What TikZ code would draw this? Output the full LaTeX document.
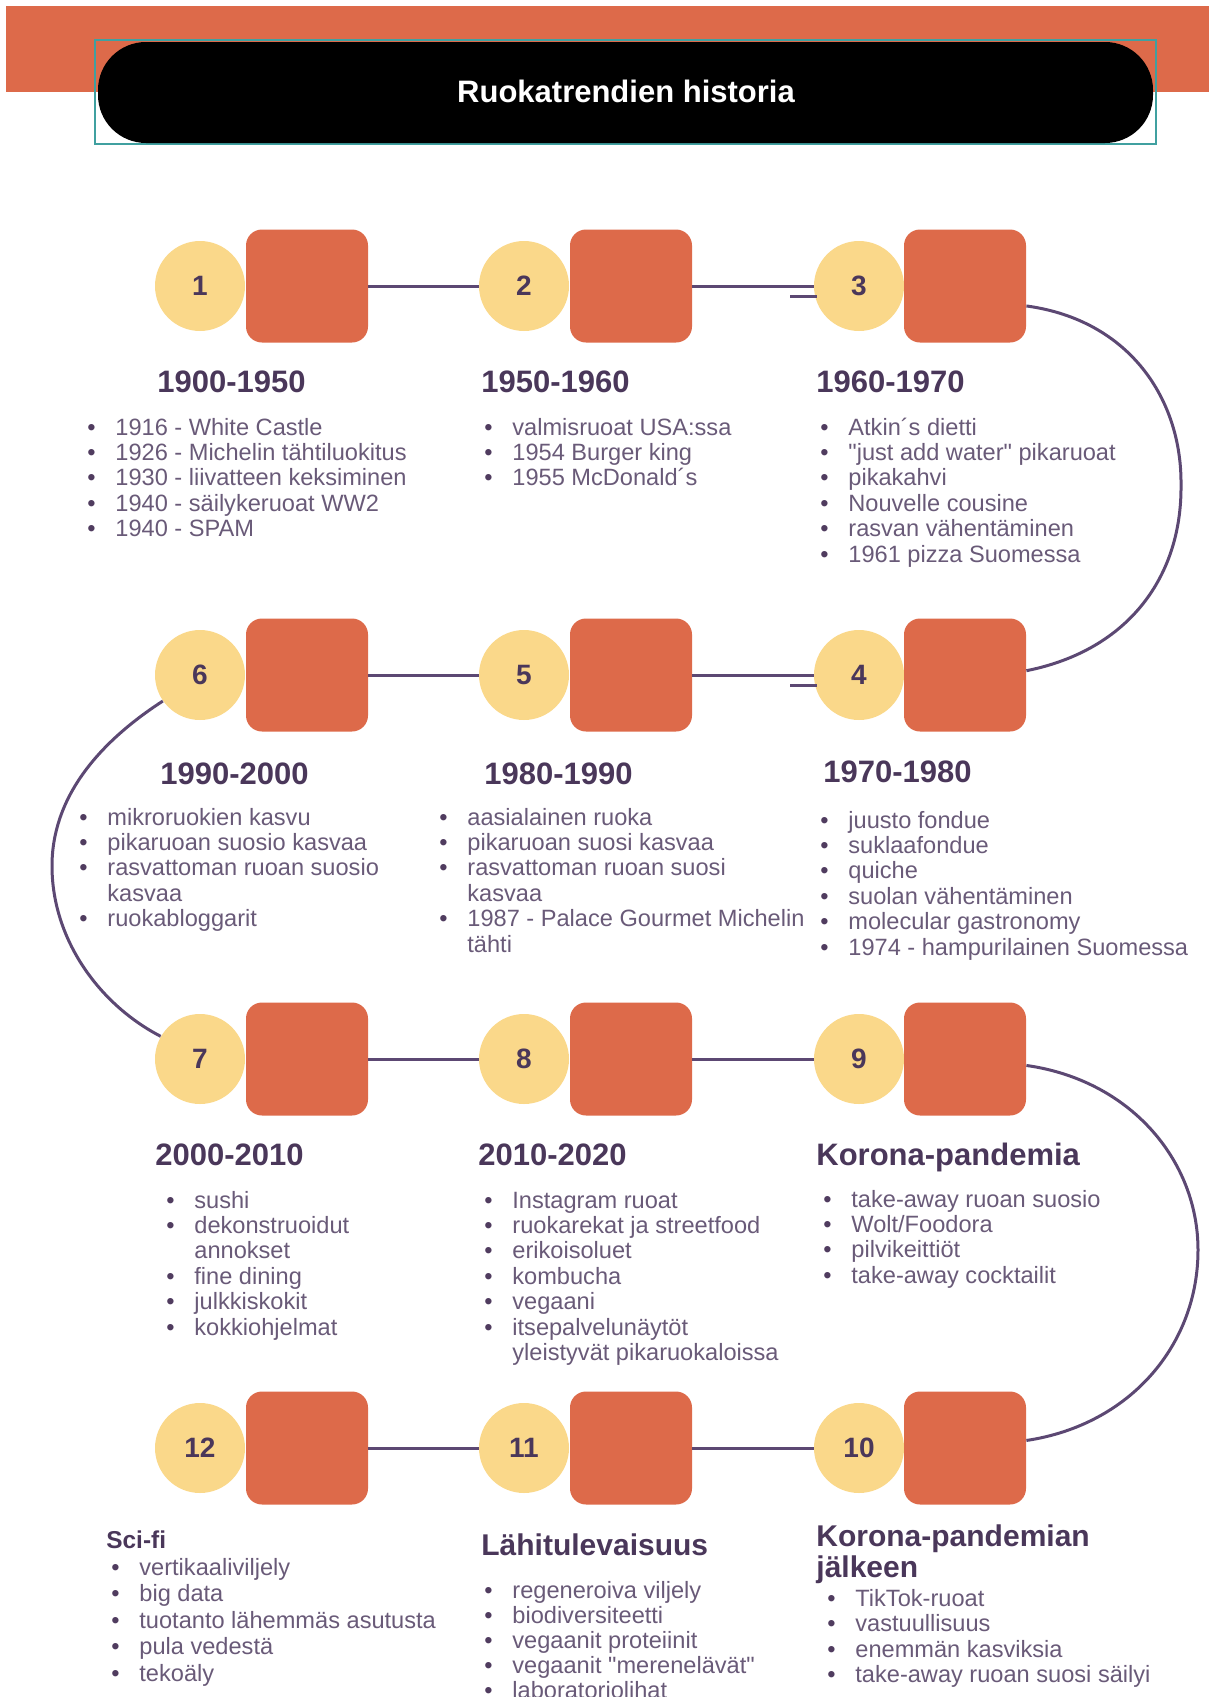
\documentclass[tikz,border=0pt]{standalone}
\usepackage{fontspec}
\setmainfont{Liberation Sans}[Ligatures=TeXOff]
\definecolor{corange}{RGB}{221,106,74}
\definecolor{cyel}{RGB}{250,216,138}
\definecolor{cline}{RGB}{92,72,115}
\definecolor{chead}{RGB}{74,55,90}
\definecolor{ctext}{RGB}{105,90,120}
\definecolor{cbul}{RGB}{80,60,95}
\definecolor{cteal}{RGB}{64,160,160}
\newcommand\bi{\makebox[14pt][l]{\textcolor{cbul}{\textbullet}}}
\newcommand\bc{\hspace*{14pt}}
\tikzset{
  num/.style={circle, fill=cyel, minimum size=45pt, inner sep=0pt, font=\fontsize{14}{14}\selectfont\bfseries, text=chead},
  sq/.style={rectangle, rounded corners=8pt, fill=corange, minimum width=61pt, minimum height=56.5pt, inner sep=0pt},
  link/.style={draw=cline, line width=1.5pt},
  head/.style={anchor=base west, inner sep=0pt, font=\fontsize{15.5}{15.5}\selectfont\bfseries, text=chead},
  items/.style={anchor=base west, inner sep=0pt, font=\fontsize{11.8}{12.7}\selectfont, text=ctext},
}
\begin{document}
\begin{tikzpicture}[x=0.5pt,y=-0.5pt]
\useasboundingbox (0,0) rectangle (1209,1697);
% banner
\fill[corange] (6,6) rectangle (1209,92);
\draw[cteal, line width=1pt] (95,40) rectangle (1156,144);
\fill[black, rounded corners=24pt] (98,42) rectangle (1153,143);
\node[text=white, font=\fontsize{15.5}{15.5}\selectfont\bfseries] (title) at (626,91) {Ruokatrendien historia};

% row 1
\node[num] (c1) at (200,286) {1};
\node[sq]  (q1) at (307,286) {};
\node[num] (c2) at (524,286) {2};
\node[sq]  (q2) at (631,286) {};
\node[num] (c3) at (859,286) {3};
\node[sq]  (q3) at (965,286) {};
% row 2
\node[num] (c6) at (200,675) {6};
\node[sq]  (q6) at (307,675) {};
\node[num] (c5) at (524,675) {5};
\node[sq]  (q5) at (631,675) {};
\node[num] (c4) at (859,675) {4};
\node[sq]  (q4) at (965,675) {};
% row 3
\node[num] (c7) at (200,1059) {7};
\node[sq]  (q7) at (307,1059) {};
\node[num] (c8) at (524,1059) {8};
\node[sq]  (q8) at (631,1059) {};
\node[num] (c9) at (859,1059) {9};
\node[sq]  (q9) at (965,1059) {};
% row 4
\node[num] (c12) at (200,1448) {12};
\node[sq]  (q12) at (307,1448) {};
\node[num] (c11) at (524,1448) {11};
\node[sq]  (q11) at (631,1448) {};
\node[num] (c10) at (859,1448) {10};
\node[sq]  (q10) at (965,1448) {};

% connectors
\draw[link] (q1.east) -- (c2.west);
\draw[link] (q2.east) -- (c3.west);
\draw[link] (q6.east) -- (c5.west);
\draw[link] (q5.east) -- (c4.west);
\draw[link] (q7.east) -- (c8.west);
\draw[link] (q8.east) -- (c9.west);
\draw[link] (q12.east) -- (c11.west);
\draw[link] (q11.east) -- (c10.west);
\coordinate (s3a) at (790,296);
\coordinate (s3b) at (817,296);
\coordinate (s4a) at (790,685);
\coordinate (s4b) at (817,685);
\draw[link] (s3a) -- (s3b);
\draw[link] (s4a) -- (s4b);
\draw[link] (q3.-18) .. controls (1130,320) and (1182,400) .. (1181,485)
  .. controls (1182,575) and (1130,650) .. (q4.4);
\draw[link] (c6.215) .. controls (95,745) and (52,800) .. (52,866)
  .. controls (52,940) and (100,1005) .. (c7.150);
\draw[link] (q9.-6) .. controls (1130,1080) and (1198,1160) .. (1198,1250)
  .. controls (1198,1345) and (1130,1425) .. (q10.7);

% headings
\node[head] (h1) at (157,392) {1900-1950};
\node[head] (h2) at (481,392) {1950-1960};
\node[head] (h3) at (816,392) {1960-1970};
\node[head] (h6) at (160,784) {1990-2000};
\node[head] (h5) at (484,784) {1980-1990};
\node[head] (h4) at (823,782) {1970-1980};
\node[head] (h7) at (155,1165) {2000-2010};
\node[head] (h8) at (478,1165) {2010-2020};
\node[head] (h9) at (816,1165) {Korona-pandemia};
\node[head, font=\fontsize{12.2}{12.2}\selectfont\bfseries] (h12) at (106,1548) {Sci-fi};
\node[head, font=\fontsize{15}{15}\selectfont\bfseries] (h11) at (481,1555) {Lähitulevaisuus};
\node[head, font=\fontsize{15}{15.5}\selectfont\bfseries] (h10) at (816,1546)
  {\begin{tabular}[t]{@{}l@{}}Korona-pandemian\\jälkeen\end{tabular}};

% lists
\node[items] (l1) at (87,435) {\begin{tabular}[t]{@{}l@{}}
\bi 1916 - White Castle\\
\bi 1926 - Michelin tähtiluokitus\\
\bi 1930 - liivatteen keksiminen\\
\bi 1940 - säilykeruoat WW2\\
\bi 1940 - SPAM\end{tabular}};
\node[items] (l2) at (484,435) {\begin{tabular}[t]{@{}l@{}}
\bi valmisruoat USA:ssa\\
\bi 1954 Burger king\\
\bi 1955 McDonald´s\end{tabular}};
\node[items] (l3) at (820,435) {\begin{tabular}[t]{@{}l@{}}
\bi Atkin´s dietti\\
\bi "just add water" pikaruoat\\
\bi pikakahvi\\
\bi Nouvelle cousine\\
\bi rasvan vähentäminen\\
\bi 1961 pizza Suomessa\end{tabular}};
\node[items] (l6) at (79,825) {\begin{tabular}[t]{@{}l@{}}
\bi mikroruokien kasvu\\
\bi pikaruoan suosio kasvaa\\
\bi rasvattoman ruoan suosio\\
\bc kasvaa\\
\bi ruokabloggarit\end{tabular}};
\node[items] (l5) at (439,825) {\begin{tabular}[t]{@{}l@{}}
\bi aasialainen ruoka\\
\bi pikaruoan suosi kasvaa\\
\bi rasvattoman ruoan suosi\\
\bc kasvaa\\
\bi 1987 - Palace Gourmet Michelin\\
\bc tähti\end{tabular}};
\node[items] (l4) at (820,828) {\begin{tabular}[t]{@{}l@{}}
\bi juusto fondue\\
\bi suklaafondue\\
\bi quiche\\
\bi suolan vähentäminen\\
\bi molecular gastronomy\\
\bi 1974 - hampurilainen Suomessa\end{tabular}};
\node[items] (l7) at (166,1208) {\begin{tabular}[t]{@{}l@{}}
\bi sushi\\
\bi dekonstruoidut\\
\bc annokset\\
\bi fine dining\\
\bi julkkiskokit\\
\bi kokkiohjelmat\end{tabular}};
\node[items] (l8) at (484,1208) {\begin{tabular}[t]{@{}l@{}}
\bi Instagram ruoat\\
\bi ruokarekat ja streetfood\\
\bi erikoisoluet\\
\bi kombucha\\
\bi vegaani\\
\bi itsepalvelunäytöt\\
\bc yleistyvät pikaruokaloissa\end{tabular}};
\node[items] (l9) at (823,1207) {\begin{tabular}[t]{@{}l@{}}
\bi take-away ruoan suosio\\
\bi Wolt/Foodora\\
\bi pilvikeittiöt\\
\bi take-away cocktailit\end{tabular}};
\node[items, font=\fontsize{11.8}{13.25}\selectfont] (l12) at (111,1575) {\begin{tabular}[t]{@{}l@{}}
\bi vertikaaliviljely\\
\bi big data\\
\bi tuotanto lähemmäs asutusta\\
\bi pula vedestä\\
\bi tekoäly\end{tabular}};
\node[items, font=\fontsize{11.8}{12.5}\selectfont] (l11) at (484,1598) {\begin{tabular}[t]{@{}l@{}}
\bi regeneroiva viljely\\
\bi biodiversiteetti\\
\bi vegaanit proteiinit\\
\bi vegaanit "merenelävät"\\
\bi laboratoriolihat\end{tabular}};
\node[items, font=\fontsize{11.8}{12.8}\selectfont] (l10) at (827,1606) {\begin{tabular}[t]{@{}l@{}}
\bi TikTok-ruoat\\
\bi vastuullisuus\\
\bi enemmän kasviksia\\
\bi take-away ruoan suosi säilyi\end{tabular}};
\end{tikzpicture}
\end{document}
